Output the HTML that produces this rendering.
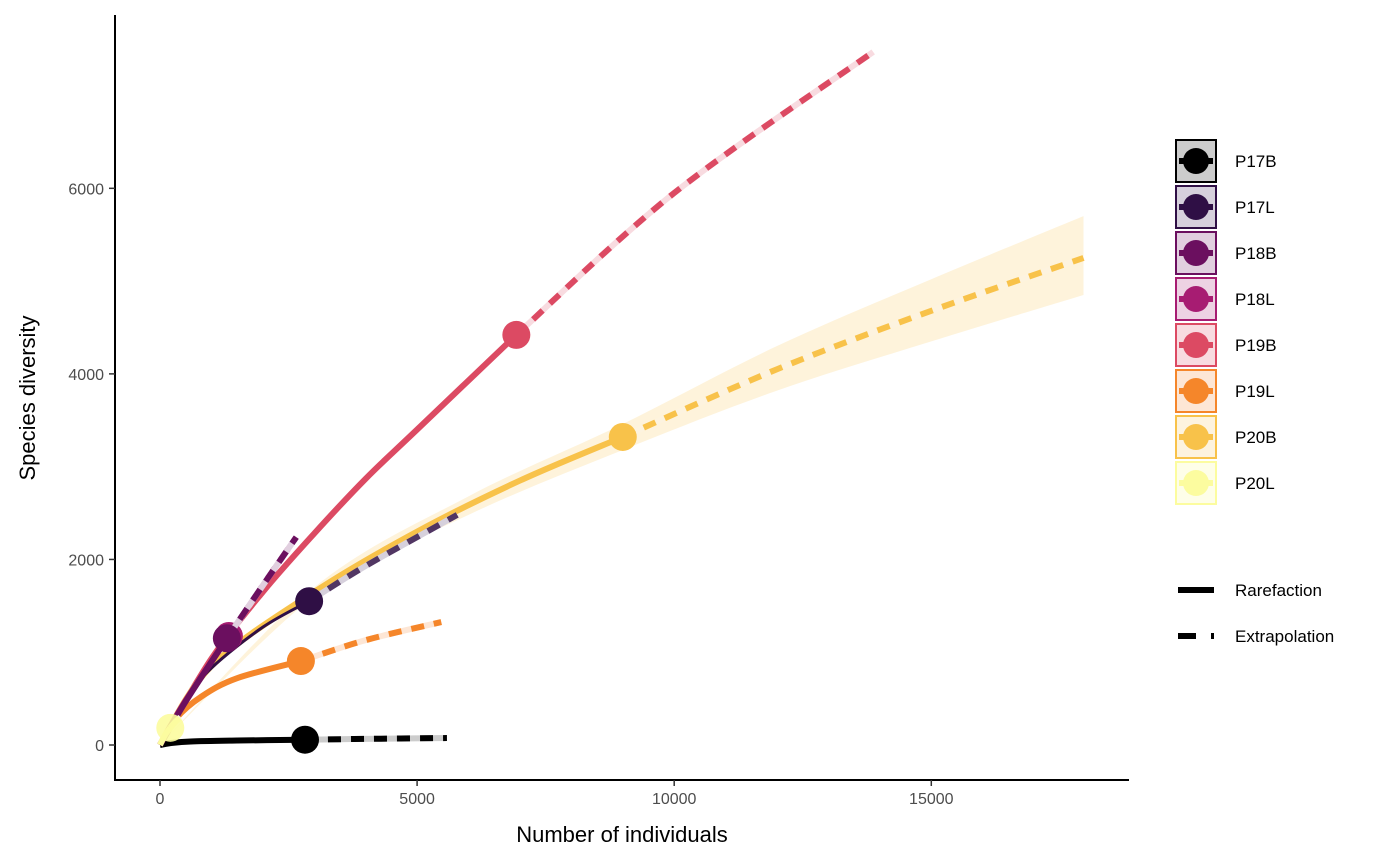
<!DOCTYPE html>
<html><head><meta charset="utf-8">
<style>
html,body{margin:0;padding:0;background:#fff;}
svg{display:block;font-family:"Liberation Sans",Arial,sans-serif;}
</style></head>
<body>
<svg id="chart" width="1400" height="865" xmlns="http://www.w3.org/2000/svg">
  <g id="marks"></g>
  <g id="axes"></g>
  <g id="legend"></g>
</svg>
<script>
const sites = ["P17B","P17L","P18B","P18L","P19B","P19L","P20B","P20L"];
const colors = ["#000000","#2f0f45","#6b0f5f","#a71c72","#dc4a63","#f5862a","#f8c24a","#fcfc9f"];
const fills = ["#cccccc","#d6d0dc","#e1cfdf","#edd2e3","#f8dbe0","#fde6d5","#fdf3df","#fefee8"];
// rarefaction points [n, S]
const rareP17B = [[0,0],[200,20],[600,38],[1500,48],[2820,57]];
const extrP17B = [[2820,57],[4000,66],[5580,75]];
const rareP17L = [[0,0],[500,480],[1000,830],[2000,1270],[2900,1550]];
const extrP17L = [[2900,1550],[4000,1930],[5780,2480]];
const rareP18B = [[0,0],[500,470],[1300,1150]];
const extrP18B = [[1300,1150],[2000,1720],[2650,2240]];
const rareP18L = [[0,0],[500,480],[1340,1175]];
const extrP18L = [[1340,1175],[2000,1720],[2650,2240]];
const rareP19B = [[0,0],[1000,930],[2000,1650],[3000,2280],[4000,2870],[5000,3400],[6930,4420]];
const extrP19B = [[6930,4420],[10000,5950],[13870,7470]];
const rareP19L = [[0,0],[300,280],[800,520],[1500,720],[2740,905]];
const extrP19L = [[2740,905],[4000,1130],[5470,1325]];
const rareP20B = [[0,0],[1000,850],[3000,1650],[5000,2300],[7000,2850],[9000,3320]];
const extrP20B = [[9000,3320],[12000,4050],[15000,4680],[17960,5250]];
const rareP20L = [[0,0],[100,110],[200,185]];
const extrP20L = [[200,185],[300,250],[400,300]];
// confidence band for P20B: [n, lower, upper]
const bandP20B = [[0,0,0],[3000,1600,1700],[6000,2480,2680],[9000,3180,3460],[12000,3820,4300],[15000,4350,5020],[17960,4850,5700]];
const rare = [rareP17B,rareP17L,rareP18B,rareP18L,rareP19B,rareP19L,rareP20B,rareP20L];
const extr = [extrP17B,extrP17L,extrP18B,extrP18L,extrP19B,extrP19L,extrP20B,extrP20L];
const xTicks = [0,5000,10000,15000];
const yTicks = [0,2000,4000,6000];

const NS="http://www.w3.org/2000/svg";
const X = n => 160 + n*0.05142;
const Y = s => 745 - s*0.09278;
function mk(tag, attrs, parent){const e=document.createElementNS(NS,tag);for(const k in attrs)e.setAttribute(k,attrs[k]);parent.appendChild(e);return e;}
function spline(pts){
  const p=pts.map(d=>[X(d[0]),Y(d[1])]);
  let d="M"+p[0][0]+","+p[0][1];
  for(let i=0;i<p.length-1;i++){
    const p0=p[Math.max(0,i-1)],p1=p[i],p2=p[i+1],p3=p[Math.min(p.length-1,i+2)];
    const c1=[p1[0]+(p2[0]-p0[0])/6,p1[1]+(p2[1]-p0[1])/6];
    const c2=[p2[0]-(p3[0]-p1[0])/6,p2[1]-(p3[1]-p1[1])/6];
    d+=" C"+c1+" "+c2+" "+p2;
  }
  return d;
}
const marks=document.getElementById('marks');
// band
{
  const up=bandP20B.map(d=>[d[0],d[2]]), lo=bandP20B.map(d=>[d[0],d[1]]).reverse();
  const d=spline(up)+" L"+X(lo[0][0])+","+Y(lo[0][1])+spline(lo).slice(1).replace(/^[^C]*/,"");
  const b=mk('path',{d:d,fill:"#f8c24a","fill-opacity":0.2,stroke:"none"},marks);
  
  
}
const order=[4,6,5,0,1,3,2,7];
order.forEach(i=>{
  const g=mk('g',{},marks);
  
  
  const t=mk('path',{d:spline(extr[i]),fill:"none",stroke:fills[i],"stroke-width":6},g);
  
  
  const e=mk('path',{d:spline(extr[i]),fill:"none",stroke:colors[i],"stroke-width":6,"stroke-dasharray":"13 10","stroke-opacity":i==1?0.8:1},g);
  
  
  const r=mk('path',{d:spline(rare[i]),fill:"none",stroke:colors[i],"stroke-width":i==1?3:6},g);
  
  
  const o=rare[i][rare[i].length-1];
  const c=mk('circle',{cx:X(o[0]),cy:Y(o[1]),r:14,fill:colors[i],"fill-opacity":i==7?0.9:1},g);
  
  
});
// axes
const axes=document.getElementById('axes');
const ya=mk('line',{x1:115,y1:15,x2:115,y2:780,stroke:"#000","stroke-width":2},axes);

const xa=mk('line',{x1:114,y1:780,x2:1129,y2:780,stroke:"#000","stroke-width":2},axes);

xTicks.forEach(v=>{
  const tk=mk('line',{x1:X(v),y1:780,x2:X(v),y2:786,stroke:"#333","stroke-width":1.5},axes);
  
  const tl=mk('text',{x:X(v),y:804,"text-anchor":"middle","font-size":16,fill:"#4d4d4d"},axes);
  tl.textContent=v;
  
});
yTicks.forEach(v=>{
  const tk=mk('line',{x1:109,y1:Y(v),x2:115,y2:Y(v),stroke:"#333","stroke-width":1.5},axes);
  
  const tl=mk('text',{x:104,y:Y(v)+6,"text-anchor":"end","font-size":16,fill:"#4d4d4d"},axes);
  tl.textContent=v;
  
});
const xt=mk('text',{x:622,y:842,"text-anchor":"middle","font-size":22,fill:"#000"},axes);
xt.textContent="Number of individuals";

const yt=mk('text',{x:0,y:0,"text-anchor":"middle","font-size":22,fill:"#000",transform:"translate(35,398) rotate(-90)"},axes);
yt.textContent="Species diversity";

// legend
const lg=document.getElementById('legend');
sites.forEach((s,i)=>{
  const y0=139+i*46;
  const g=mk('g',{},lg);
  
  
  mk('rect',{x:1176,y:y0+1,width:40,height:42,fill:fills[i],stroke:colors[i],"stroke-width":2},g);
  mk('line',{x1:1179,y1:y0+22,x2:1213,y2:y0+22,stroke:colors[i],"stroke-width":6},g);
  mk('circle',{cx:1196,cy:y0+22,r:13,fill:colors[i]},g);
  const t=mk('text',{x:1235,y:y0+28,"font-size":17,fill:"#000"},g);
  t.textContent=s;
});
[["Rarefaction",false,590],["Extrapolation",true,636]].forEach(([lab,dash,y])=>{
  const g=mk('g',{},lg);
  
  
  if(dash){
    mk('line',{x1:1178,y1:y,x2:1196,y2:y,stroke:"#000","stroke-width":6},g);
    mk('line',{x1:1211,y1:y,x2:1214,y2:y,stroke:"#000","stroke-width":6},g);
  } else mk('line',{x1:1178,y1:y,x2:1214,y2:y,stroke:"#000","stroke-width":6},g);
  const t=mk('text',{x:1235,y:y+6,"font-size":17,fill:"#000"},g);
  t.textContent=lab;
});
</script>
</body></html>
